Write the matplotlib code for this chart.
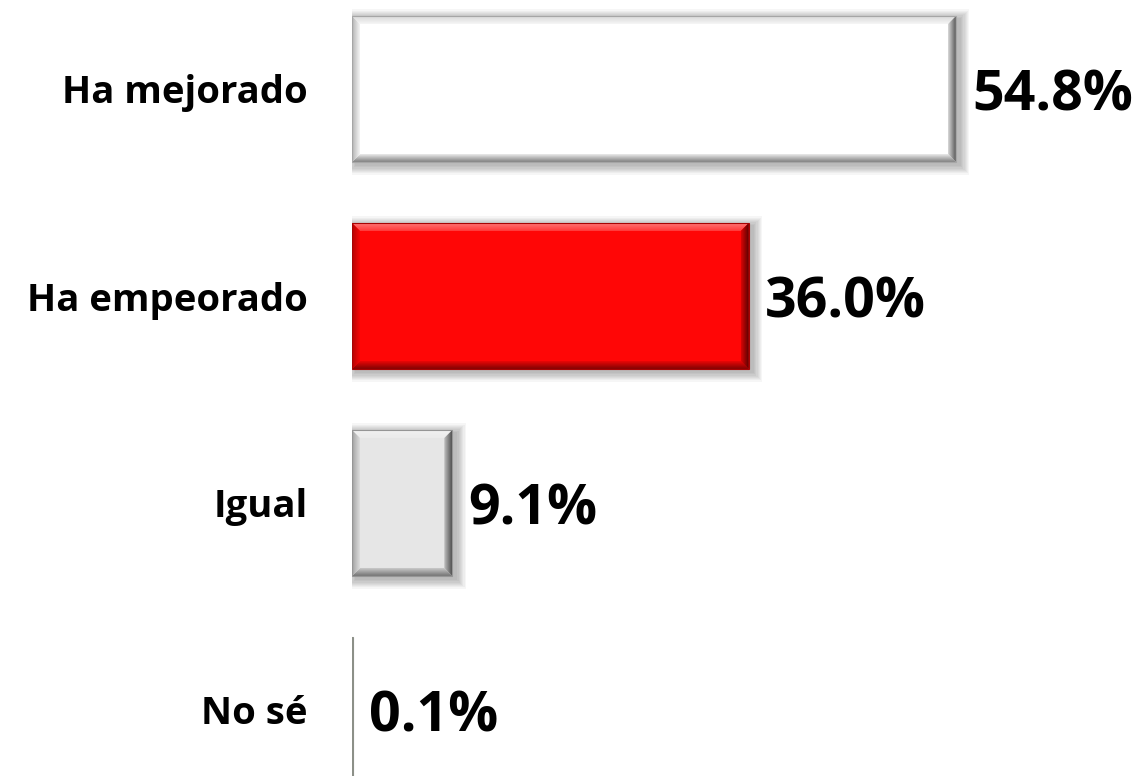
import matplotlib
matplotlib.use("Agg")
import matplotlib.pyplot as plt
import numpy as np
from matplotlib.patches import Polygon, Rectangle
from matplotlib.colors import to_rgb

categories = ["Ha mejorado", "Ha empeorado", "Igual", "No sé"]
values = [54.8, 36.0, 9.1, 0.1]
labels = ["54.8%", "36.0%", "9.1%", "0.1%"]
colors = ["#ffffff", "#ff0606", "#e6e6e6", "#8c9088"]

W, H = 1138, 776
fig = plt.figure(figsize=(W / 100, H / 100), dpi=100)
fig.patch.set_facecolor("white")

ax_left = 352
px_per_unit = 11.02
ax = fig.add_axes([ax_left / W, 0, 1 - ax_left / W, 1])
xmax = (W - ax_left) / px_per_unit
pitch = 207.0
c0 = 89.0
ytop = -c0 / pitch
ybot = (H - c0) / pitch
ax.set_xlim(0, xmax)
ax.set_ylim(ybot, ytop)

bar_h = 0.705
ypos = np.arange(len(categories))

bx = 8 / px_per_unit
by = 8 / pitch


def mix(c, other, t):
    c = np.array(to_rgb(c)); o = np.array(to_rgb(other))
    return tuple(c * (1 - t) + o * t)


def grad_poly(verts, ca, cb, horizontal, a, b):
    poly = Polygon(verts, closed=True, facecolor="none", edgecolor="none")
    ax.add_patch(poly)
    n = 64
    ca = np.array(to_rgb(ca)); cb = np.array(to_rgb(cb))
    t = np.linspace(0, 1, n)[:, None]
    g = ca * (1 - t) + cb * t
    xs = [v[0] for v in verts]; ys = [v[1] for v in verts]
    if horizontal:
        img = g[None, :, :]
        ext = (a, b, min(ys), max(ys))
    else:
        img = g[:, None, :]
        ext = (min(xs), max(xs), a, b)
    im = ax.imshow(img, extent=ext, origin="lower", aspect="auto",
                   interpolation="bilinear", zorder=4)
    im.set_clip_path(poly)


# soft drop shadows
for y, v in zip(ypos, values):
    if v < 1:
        continue
    dx = 4 / px_per_unit
    dy = 3 / pitch
    for k in range(8):
        ex = (8 - k) * 1.2 / px_per_unit
        ey = (8 - k) * 1.2 / pitch
        r = Rectangle((dx - ex, y - bar_h / 2 + dy - ey), v + 2 * ex,
                      bar_h + 2 * ey, facecolor="black", edgecolor="none",
                      alpha=0.035, zorder=1)
        ax.add_patch(r)

bars = ax.barh(ypos, values, height=bar_h, color=colors, zorder=3,
               edgecolor="none")

for y, v, c in zip(ypos, values, colors):
    x0, x1 = 0, v
    yt, yb = y - bar_h / 2, y + bar_h / 2
    if v < 1:
        ax.add_patch(Rectangle((0, yt), 0.12, bar_h, facecolor=c,
                               edgecolor=c, lw=0.8, zorder=4))
        continue
    grad_poly([(x0, yt), (x1, yt), (x1 - bx, yt + by), (x0 + bx, yt + by)],
              mix(c, "white", 0.45) if c != "#ffffff" else "#d8d8d8",
              mix(c, "white", 0.2) if c != "#ffffff" else "#f6f6f6",
              False, yt, yt + by)
    grad_poly([(x0, yb), (x1, yb), (x1 - bx, yb - by), (x0 + bx, yb - by)],
              mix(c, "black", 0.5), mix(c, "black", 0.08), False, yb, yb - by)
    grad_poly([(x0, yt), (x0 + bx, yt + by), (x0 + bx, yb - by), (x0, yb)],
              mix(c, "black", 0.3), mix(c, "black", 0.04), True, x0, x0 + bx)
    grad_poly([(x1, yt), (x1 - bx, yt + by), (x1 - bx, yb - by), (x1, yb)],
              mix(c, "black", 0.65), mix(c, "black", 0.15), True, x1, x1 - bx)
    ax.add_patch(Rectangle((x0, yt), v, bar_h, facecolor="none",
                           edgecolor=mix(c, "black", 0.35), lw=0.8, zorder=5))

ax.set_xlim(0, xmax)
ax.set_ylim(ybot, ytop)

for y, v, lab in zip(ypos, values, labels):
    ax.text(v + 16 / px_per_unit, y + 7 / pitch, lab, ha="left", va="center",
            fontsize=40, fontweight="bold", family="Open Sans", color="black",
            zorder=6)

ax.set_yticks(ypos)
ax.set_yticklabels(categories, fontsize=27.5, fontweight="bold",
                   family="Open Sans")
ax.tick_params(axis="y", length=0, pad=32)
ax.set_xticks([])
for s in ax.spines.values():
    s.set_visible(False)
ax.set_facecolor("none")

fig.savefig("out.png", dpi=100, facecolor="white")
